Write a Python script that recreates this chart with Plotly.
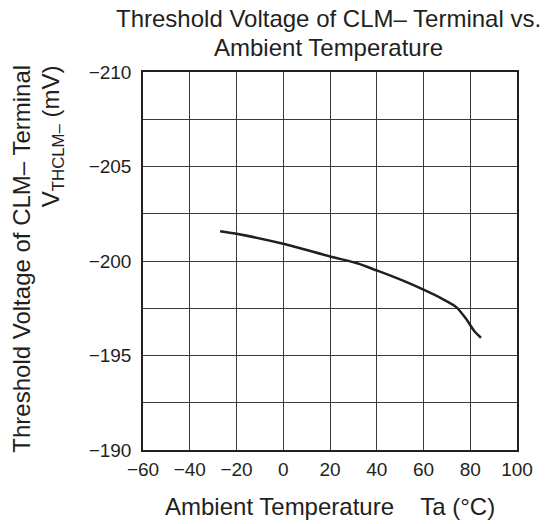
import plotly.graph_objects as go

temperature_c = [-27, -20, 0, 20, 31.6, 40, 51, 60, 68, 74, 78.2, 81.7, 84.6]
threshold_mv = [-201.58, -201.44, -200.91, -200.24, -199.88, -199.5, -198.97, -198.48, -198.0, -197.56, -196.94, -196.3, -195.94]

x_ticks = [-60, -40, -20, 0, 20, 40, 60, 80, 100]
x_tick_labels = ["\u221260", "\u221240", "\u221220", "0", "20", "40", "60", "80", "100"]
y_ticks = [-210, -205, -200, -195, -190]
y_tick_labels = ["\u2212210", "\u2212205", "\u2212200", "\u2212195", "\u2212190"]

FONT = "Liberation Sans, Arial, sans-serif"
INK = "#231f20"
GRID = "#3a3a3a"

fig = go.Figure()
fig.add_trace(go.Scatter(
    x=temperature_c, y=threshold_mv, mode="lines",
    line=dict(color=INK, width=2.5, shape="spline", smoothing=0.8),
    showlegend=False, hoverinfo="skip",
))

W, H = 545, 524
L, R, T, B = 143, 23, 72, 74
PW, PH = W - L - R, H - T - B

def py(y):
    return 1 + (T - y) / PH

def px(x):
    return (x - L) / PW

fig.update_layout(
    width=W, height=H,
    margin=dict(l=L, r=R, t=T, b=B),
    paper_bgcolor="white", plot_bgcolor="white",
    font=dict(family=FONT, color=INK, size=19),
    xaxis=dict(
        range=[-60, 100], tickvals=x_ticks, ticktext=x_tick_labels,
        showgrid=True, gridcolor=GRID, gridwidth=1,
        showline=True, linecolor=INK, linewidth=1.5, mirror=True,
        ticks="", zeroline=False, ticklabelstandoff=1,
        tickfont=dict(size=19, family=FONT, color=INK),
    ),
    yaxis=dict(
        range=[-190, -210], tickvals=y_ticks, ticktext=y_tick_labels,
        showgrid=True, gridcolor=GRID, gridwidth=1,
        minor=dict(dtick=2.5, showgrid=True, gridcolor=GRID, gridwidth=1, ticks=""),
        showline=True, linecolor=INK, linewidth=1.5, mirror=True,
        ticks="", zeroline=False, ticklabelstandoff=6,
        tickfont=dict(size=19, family=FONT, color=INK),
    ),
)

title_font = dict(family=FONT, size=24, color=INK)
fig.add_annotation(
    text="Threshold Voltage of CLM\u2013 Terminal vs.",
    xref="paper", yref="paper", x=px(331), y=py(18),
    xanchor="center", yanchor="middle", showarrow=False, font=title_font,
)
fig.add_annotation(
    text="Ambient Temperature",
    xref="paper", yref="paper", x=px(331), y=py(47),
    xanchor="center", yanchor="middle", showarrow=False, font=title_font,
)
fig.add_annotation(
    text="Ambient Temperature    Ta (\u00b0C)",
    xref="paper", yref="paper", x=px(333), y=py(507),
    xanchor="center", yanchor="middle", showarrow=False, font=title_font,
)
fig.add_annotation(
    text="Threshold Voltage of CLM\u2013 Terminal", textangle=-90,
    xref="paper", yref="paper", x=px(19), y=py(63),
    xanchor="center", yanchor="top", showarrow=False, font=title_font,
)
fig.add_annotation(
    text="V<sub>THCLM\u2013</sub> (mV)", textangle=-90,
    xref="paper", yref="paper", x=px(51), y=py(63),
    xanchor="center", yanchor="top", showarrow=False, font=title_font,
)

fig.write_html(
    "out.html",
    config={"displayModeBar": False},
    post_script="document.body.style.margin='0';",
)
